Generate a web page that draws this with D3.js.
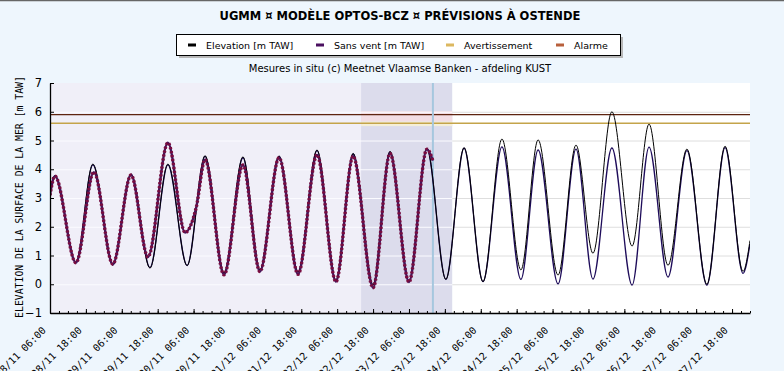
<!DOCTYPE html>
<html>
<head>
<meta charset="utf-8">
<script src="https://cdn.jsdelivr.net/npm/d3@7"></script>
<style>
  body { margin: 0; background: #eef6fd; }
  svg { display: block; }
</style>
</head>
<body>
<div id="chart"></div>
<script>
// time range shown and tick labels
const domainStart = "28/11 06:00";
const domainEnd = "08/12 00:00";
const tickLabels = [
  "28/11 06:00", "28/11 18:00", "29/11 06:00", "29/11 18:00", "30/11 06:00",
  "30/11 18:00", "01/12 06:00", "01/12 18:00", "02/12 06:00", "02/12 18:00",
  "03/12 06:00", "03/12 18:00", "04/12 06:00", "04/12 18:00", "05/12 06:00",
  "05/12 18:00", "06/12 06:00", "06/12 18:00", "07/12 06:00", "07/12 18:00"
];
const yTicks = [-1, 0, 1, 2, 3, 4, 5, 6, 7];

// shaded periods and "now"
const recentStart = "02/12 14:00";
const recentEnd = "03/12 20:30";
const nowTime = "03/12 14:00";

// thresholds [m TAW]
const alarmLevel = 5.9;
const warningLevel = 5.6;

// Elevation [m TAW] (high / low waters)
const elevation = [
  ["28/11 06:00", 3.15], ["28/11 07:40", 3.78], ["28/11 14:40", 0.75], ["28/11 20:20", 4.18],
  ["29/11 03:00", 0.67], ["29/11 09:05", 3.83], ["29/11 15:25", 0.56], ["29/11 21:25", 4.18],
  ["30/11 03:50", 0.65], ["30/11 09:50", 4.47], ["30/11 16:10", 0.38], ["30/11 22:30", 4.43],
  ["01/12 04:10", 0.5], ["01/12 10:35", 4.46], ["01/12 16:55", 0.42], ["01/12 23:15", 4.67],
  ["02/12 05:35", 0.14], ["02/12 11:20", 4.55], ["02/12 18:00", -0.02], ["02/12 23:40", 4.62],
  ["03/12 06:00", 0.12], ["03/12 12:00", 4.72], ["03/12 18:20", 0.17], ["04/12 00:25", 4.75],
  ["04/12 06:45", 0.09], ["04/12 13:05", 5.05], ["04/12 19:25", 0.5], ["05/12 01:10", 5.02],
  ["05/12 07:50", 0.32], ["05/12 13:50", 4.84], ["05/12 19:30", 1.08], ["06/12 01:50", 6.0],
  ["06/12 08:35", 1.33], ["06/12 14:15", 5.57], ["06/12 20:35", 0.66], ["07/12 02:55", 4.7],
  ["07/12 09:35", 0.0], ["07/12 15:40", 4.8], ["07/12 21:40", 0.45], ["08/12 00:00", 1.52]
];

// Sans vent [m TAW]
const sansVent = [
  ["28/11 06:00", 3.15], ["28/11 07:40", 3.78], ["28/11 14:40", 0.75], ["28/11 20:20", 4.15],
  ["29/11 03:00", 0.67], ["29/11 09:05", 3.83], ["29/11 15:25", 0.58], ["29/11 21:25", 4.15],
  ["30/11 03:50", 0.65], ["30/11 09:50", 4.45], ["30/11 16:10", 0.38], ["30/11 22:30", 4.4],
  ["01/12 04:10", 0.5], ["01/12 10:35", 4.45], ["01/12 16:55", 0.42], ["01/12 23:15", 4.65],
  ["02/12 05:35", 0.14], ["02/12 11:20", 4.53], ["02/12 18:00", -0.02], ["02/12 23:40", 4.6],
  ["03/12 06:00", 0.12], ["03/12 12:00", 4.7], ["03/12 18:20", 0.17], ["04/12 00:25", 4.73],
  ["04/12 06:45", 0.09], ["04/12 13:05", 4.78], ["04/12 19:25", 0.17], ["05/12 01:10", 4.67],
  ["05/12 07:50", 0.01], ["05/12 13:50", 4.7], ["05/12 19:30", 0.18], ["06/12 01:50", 4.74],
  ["06/12 08:35", -0.03], ["06/12 14:15", 4.77], ["06/12 20:35", 0.25], ["07/12 02:55", 4.65],
  ["07/12 09:35", -0.03], ["07/12 15:40", 4.75], ["07/12 21:40", 0.38], ["08/12 00:00", 1.4]
];

// Mesures in situ (until now)
const measured = [
  ["28/11 06:00", 3.1], ["28/11 07:40", 3.76], ["28/11 14:40", 0.75], ["28/11 20:40", 3.9],
  ["29/11 03:00", 0.7], ["29/11 09:05", 3.8], ["29/11 14:45", 0.95], ["29/11 21:25", 4.92],
  ["30/11 03:10", 1.8], ["30/11 06:50", 2.65], ["30/11 09:50", 4.33], ["30/11 16:10", 0.33],
  ["30/11 22:30", 4.15], ["01/12 04:10", 0.44], ["01/12 10:35", 4.4], ["01/12 16:55", 0.35],
  ["01/12 23:15", 4.5], ["02/12 05:35", 0.09], ["02/12 11:20", 4.45], ["02/12 18:00", -0.12],
  ["02/12 23:40", 4.55], ["03/12 06:00", 0.08], ["03/12 12:00", 4.7], ["03/12 14:00", 4.3]
];

const width = 784, height = 371;
const plotLeft = 50, plotRight = 750, plotTop = 83, plotBottom = 313;

const parse = d3.timeParse("%d/%m %H:%M");

const svg = d3.select("#chart").append("svg")
  .attr("width", width)
  .attr("height", height);

svg.append("rect").attr("width", width).attr("height", height).attr("fill", "#eef6fd");
svg.append("line")
  .attr("x1", 0).attr("x2", width).attr("y1", 0.5).attr("y2", 0.5)
  .attr("stroke", "#666").attr("stroke-width", 1.5);

const x = d3.scaleTime()
  .domain([parse(domainStart), parse(domainEnd)])
  .range([plotLeft, plotRight]);

const y = d3.scaleLinear()
  .domain([-1, 7])
  .range([plotBottom, plotTop]);

const xRecentStart = x(parse(recentStart));
const xRecentEnd = x(parse(recentEnd));

// plot backgrounds
svg.append("rect")
  .attr("x", plotLeft).attr("y", plotTop)
  .attr("width", xRecentStart - plotLeft).attr("height", plotBottom - plotTop)
  .attr("fill", "#f0eff8");
svg.append("rect")
  .attr("x", xRecentStart).attr("y", plotTop)
  .attr("width", xRecentEnd - xRecentStart).attr("height", plotBottom - plotTop)
  .attr("fill", "#dcdcec");
svg.append("rect")
  .attr("x", xRecentEnd).attr("y", plotTop)
  .attr("width", plotRight - xRecentEnd).attr("height", plotBottom - plotTop)
  .attr("fill", "#ffffff");

// light bands near thresholds in the recent period
svg.append("rect")
  .attr("x", xRecentStart).attr("y", y(6.02))
  .attr("width", xRecentEnd - xRecentStart)
  .attr("height", y(warningLevel + 0.06) - y(6.02))
  .attr("fill", "#f3dde4");
svg.append("rect")
  .attr("x", xRecentStart).attr("y", y(warningLevel + 0.06))
  .attr("width", xRecentEnd - xRecentStart)
  .attr("height", y(warningLevel - 0.1) - y(warningLevel + 0.06))
  .attr("fill", "#f5efd8");

// horizontal grid
const gridVals = yTicks.filter(v => v > -1 && v < 7);
svg.append("g").selectAll("line")
  .data(gridVals)
  .enter().append("line")
  .attr("x1", plotLeft).attr("x2", xRecentEnd)
  .attr("y1", d => y(d) + 0.5).attr("y2", d => y(d) + 0.5)
  .attr("stroke", "#fbfbff").attr("stroke-width", 1);
svg.append("g").selectAll("line")
  .data(gridVals)
  .enter().append("line")
  .attr("x1", xRecentEnd).attr("x2", plotRight)
  .attr("y1", d => y(d) + 0.5).attr("y2", d => y(d) + 0.5)
  .attr("stroke", "#dedede").attr("stroke-width", 1);

// thresholds
svg.append("line")
  .attr("x1", plotLeft).attr("x2", plotRight)
  .attr("y1", y(alarmLevel)).attr("y2", y(alarmLevel))
  .attr("stroke", "#5e2410").attr("stroke-width", 1.3);
svg.append("line")
  .attr("x1", plotLeft).attr("x2", plotRight)
  .attr("y1", y(warningLevel)).attr("y2", y(warningLevel))
  .attr("stroke", "#c4a44a").attr("stroke-width", 1.3);

// now line
svg.append("line")
  .attr("x1", x(parse(nowTime))).attr("x2", x(parse(nowTime)))
  .attr("y1", plotTop).attr("y2", plotBottom)
  .attr("stroke", "#a6c7de").attr("stroke-width", 2);

// series
svg.append("clipPath").attr("id", "plotclip")
  .append("rect").attr("x", plotLeft).attr("y", plotTop)
  .attr("width", plotRight - plotLeft).attr("height", plotBottom - plotTop);

const line = d3.line()
  .x(d => x(parse(d[0])))
  .y(d => y(d[1]))
  .curve(d3.curveMonotoneX);

const series = svg.append("g").attr("clip-path", "url(#plotclip)");

series.append("path")
  .datum(sansVent)
  .attr("d", line)
  .attr("fill", "none")
  .attr("stroke", "#1e0c5a")
  .attr("stroke-width", 1.3);

series.append("path")
  .datum(elevation)
  .attr("d", line)
  .attr("fill", "none")
  .attr("stroke", "#000")
  .attr("stroke-width", 1);

series.append("path")
  .datum(measured)
  .attr("d", line)
  .attr("fill", "none")
  .attr("stroke", "#4a1458")
  .attr("stroke-width", 2.4);

series.append("path")
  .datum(measured)
  .attr("d", line)
  .attr("fill", "none")
  .attr("stroke", "#7a0c3e")
  .attr("stroke-width", 3.4)
  .attr("stroke-dasharray", "2,2");

// x axis
const xAxis = d3.axisBottom(x)
  .tickValues(tickLabels.map(parse))
  .tickSizeInner(-4)
  .tickSizeOuter(0)
  .tickFormat((d, i) => tickLabels[i]);

const xMinor = d3.axisBottom(x)
  .ticks(d3.timeHour.every(3))
  .tickSize(-2)
  .tickFormat("");

svg.append("g")
  .attr("transform", "translate(0," + plotBottom + ")")
  .call(xMinor)
  .call(g => g.select(".domain").remove());

const gx = svg.append("g")
  .attr("transform", "translate(0," + plotBottom + ")")
  .call(xAxis);

gx.select(".domain").attr("stroke", "#000").attr("stroke-width", 1.3);
gx.selectAll("text")
  .attr("font-family", "'DejaVu Sans Mono', monospace")
  .attr("font-size", 10)
  .attr("fill", "#000")
  .attr("text-anchor", "end")
  .attr("y", 0)
  .attr("dy", 0)
  .attr("transform", "translate(-4,18) rotate(-45)");

// y axis
const gy = svg.append("g")
  .attr("transform", "translate(" + plotLeft + ",0)")
  .call(d3.axisLeft(y).tickValues(yTicks).tickSizeInner(-4).tickSizeOuter(0).tickPadding(8));

gy.select(".domain").attr("stroke", "#000").attr("stroke-width", 1.3);
gy.selectAll("text")
  .attr("font-family", "'DejaVu Sans', sans-serif")
  .attr("font-size", 11.5)
  .attr("fill", "#000");

svg.append("text")
  .attr("transform", "translate(23," + ((plotTop + plotBottom) / 2 - 1) + ") rotate(-90)")
  .attr("text-anchor", "middle")
  .attr("font-family", "'DejaVu Sans Mono', monospace")
  .attr("font-size", 9.8)
  .text("ELEVATION DE LA SURFACE DE LA MER [m TAW]");

// title and source
svg.append("text")
  .attr("x", 400).attr("y", 20)
  .attr("text-anchor", "middle")
  .attr("font-family", "'DejaVu Sans', sans-serif")
  .attr("font-weight", "bold")
  .attr("font-size", 11.5)
  .text("UGMM ¤ MODÈLE OPTOS-BCZ ¤ PRÉVISIONS À OSTENDE");

svg.append("text")
  .attr("x", 400).attr("y", 72)
  .attr("text-anchor", "middle")
  .attr("font-family", "'DejaVu Sans', sans-serif")
  .attr("font-size", 10)
  .text("Mesures in situ (c) Meetnet Vlaamse Banken - afdeling KUST");

// legend
const legendItems = ["Elevation [m TAW]", "Sans vent [m TAW]", "Avertissement", "Alarme"];
const legendColors = ["#000000", "#4a1060", "#dcb860", "#b8603c"];
const legendX = [188, 316, 446, 556];

svg.append("rect")
  .attr("x", 179).attr("y", 37).attr("width", 444).attr("height", 21)
  .attr("fill", "#b8b8b8");
svg.append("rect")
  .attr("x", 176.5).attr("y", 34.5).attr("width", 444).attr("height", 21)
  .attr("fill", "#fff").attr("stroke", "#000").attr("stroke-width", 1);

const legend = svg.append("g").selectAll("g")
  .data(legendItems)
  .enter().append("g")
  .attr("transform", (d, i) => "translate(" + legendX[i] + ",45)");

legend.append("rect")
  .attr("x", 0).attr("y", -1.5).attr("width", 8).attr("height", 3)
  .attr("fill", (d, i) => legendColors[i]);

legend.append("text")
  .attr("x", 18).attr("y", 4)
  .attr("font-family", "'DejaVu Sans', sans-serif")
  .attr("font-size", 9.5)
  .text(d => d);
</script>
</body>
</html>
